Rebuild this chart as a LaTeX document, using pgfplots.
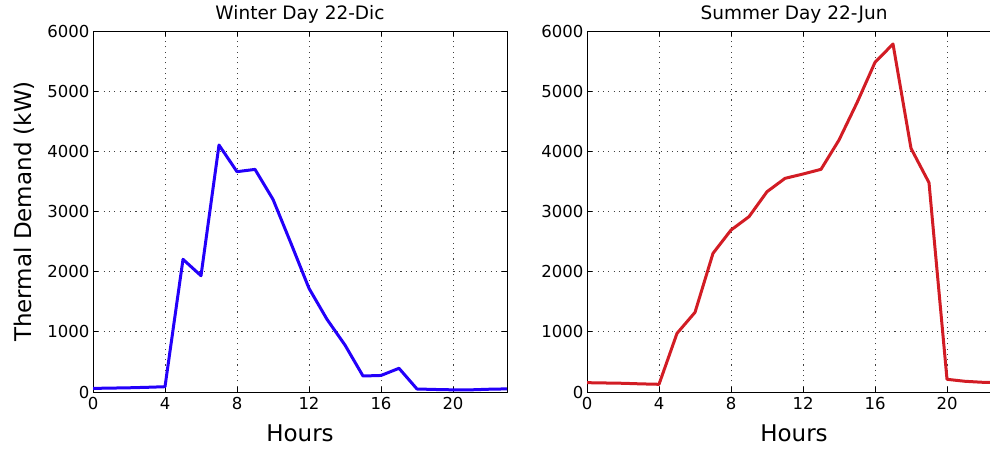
\documentclass[border=0pt]{standalone}
\usepackage{pgfplots}
\pgfplotsset{compat=1.18}
\usepackage{fontspec}
\setmainfont{DejaVu Sans}

\definecolor{winterblue}{RGB}{35,0,250}
\definecolor{summerred}{RGB}{210,28,36}

\pgfplotsset{
  demand/.style={
    scale only axis,
    width=414pt, height=361pt,
    xmin=0, xmax=23, ymin=0, ymax=6000,
    xtick={0,4,8,12,16,20},
    ytick={0,1000,2000,3000,4000,5000,6000},
    /pgf/number format/assume math mode=true,
    /pgf/number format/1000 sep={},
    scaled y ticks=false,
    tick align=inside,
    major tick length=5pt,
    tick style={black, line width=0.8pt},
    axis line style={black, line width=1pt},
    grid=major,
    major grid style={black!75, line width=0.9pt, dash pattern=on 1.1pt off 4.2pt},
    ticklabel style={font=\fontsize{16.5}{19}\selectfont},
    xticklabel style={yshift=-2pt},
    label style={font=\fontsize{23}{27}\selectfont},
    xlabel style={yshift=-8pt},
    ylabel style={yshift=6pt},
    title style={font=\fontsize{18.5}{22}\selectfont, yshift=-2pt},
    xlabel=Hours,
  },
}

\begin{document}
\begin{tikzpicture}
\begin{axis}[demand, at={(93pt,56pt)}, anchor=south west,
    title={Winter Day 22-Dic}, ylabel={Thermal Demand (kW)}]
\addplot[winterblue, line width=3pt, line join=round] coordinates {
  (0,60) (1,65) (2,70) (3,78) (4,88) (5,2205) (6,1933) (7,4105)
  (8,3662) (9,3700) (10,3202) (11,2470) (12,1723) (13,1208) (14,780)
  (15,266) (16,275) (17,394) (18,50) (19,42) (20,36) (21,36)
  (22,46) (23,52)
};
\end{axis}

\begin{axis}[demand, at={(587pt,56pt)}, anchor=south west,
    title={Summer Day 22-Jun}]
\addplot[summerred, line width=3pt, line join=round] coordinates {
  (0,155) (1,150) (2,145) (3,135) (4,128) (5,975) (6,1324) (7,2305)
  (8,2692) (9,2914) (10,3329) (11,3551) (12,3623) (13,3701) (14,4188)
  (15,4808) (16,5479) (17,5784) (18,4050) (19,3479) (20,211) (21,178)
  (22,161) (23,158)
};
\end{axis}

\pgfresetboundingbox
\useasboundingbox (0,0) rectangle (990pt,448pt);
\end{tikzpicture}
\end{document}
